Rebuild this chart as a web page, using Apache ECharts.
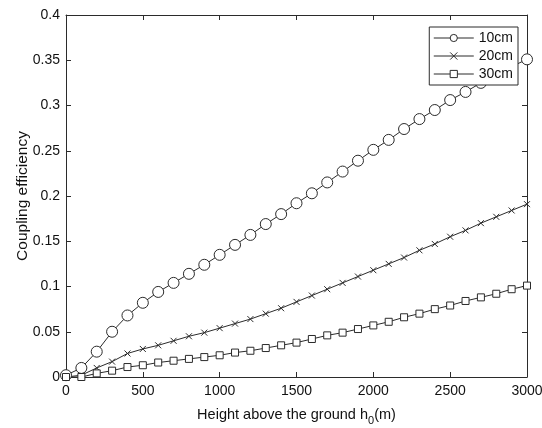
<!DOCTYPE html>
<html>
<head>
<meta charset="utf-8">
<script src="https://cdn.jsdelivr.net/npm/echarts@6/dist/echarts.min.js"></script>
<style>
  html, body { margin: 0; padding: 0; background: #fff; }
  #chart { width: 542px; height: 428px; }
</style>
</head>
<body>
<div id="chart"></div>
<script>
const heights = [0, 100, 200, 300, 400, 500, 600, 700, 800, 900, 1000,
  1100, 1200, 1300, 1400, 1500, 1600, 1700, 1800, 1900, 2000,
  2100, 2200, 2300, 2400, 2500, 2600, 2700, 2800, 2900, 3000];

const eff10 = [0.002, 0.010, 0.028, 0.050, 0.068, 0.082, 0.094, 0.104, 0.114, 0.124, 0.135,
  0.146, 0.157, 0.169, 0.180, 0.192, 0.203, 0.215, 0.227, 0.239, 0.251,
  0.262, 0.274, 0.285, 0.295, 0.306, 0.315, 0.325, 0.334, 0.343, 0.351];
const eff20 = [0.000, 0.002, 0.010, 0.017, 0.026, 0.031, 0.035, 0.040, 0.045, 0.049, 0.054,
  0.059, 0.064, 0.070, 0.076, 0.083, 0.090, 0.097, 0.104, 0.111, 0.118,
  0.125, 0.132, 0.140, 0.147, 0.155, 0.162, 0.170, 0.177, 0.184, 0.191];
const eff30 = [0.000, 0.000, 0.004, 0.007, 0.011, 0.013, 0.016, 0.018, 0.020, 0.022, 0.024,
  0.027, 0.029, 0.032, 0.035, 0.038, 0.042, 0.046, 0.049, 0.053, 0.057,
  0.061, 0.066, 0.070, 0.075, 0.079, 0.084, 0.088, 0.092, 0.097, 0.101];

const seriesNames = ["10cm", "20cm", "30cm"];
const yTickLabels = { 0: "0", 0.05: "0.05", 0.1: "0.1", 0.15: "0.15", 0.2: "0.2",
  0.25: "0.25", 0.3: "0.3", 0.35: "0.35", 0.4: "0.4" };

const ink = "#2b2b2b";
const font = "Liberation Sans, Arial, sans-serif";
const crossPath = "path://M0,0L10,10M10,0L0,10";

function pairs(vals) {
  return heights.map((h, i) => [h, vals[i]]);
}

function lineSeries(name, vals, symbol, size) {
  return {
    name: name,
    type: "line",
    data: pairs(vals),
    symbol: symbol,
    symbolSize: size,
    showAllSymbol: true,
    lineStyle: { color: ink, width: 1 },
    itemStyle: { color: "#fff", borderColor: ink, borderWidth: 1 },
    emphasis: { disabled: true },
    animation: false
  };
}

const chart = echarts.init(document.getElementById("chart"));

const axisLine = { show: true, onZero: false, lineStyle: { color: ink, width: 1 } };
const tickIn = { show: true, inside: true, length: 5, lineStyle: { color: ink } };

chart.setOption({
  backgroundColor: "#fff",
  animation: false,
  textStyle: { fontFamily: font },
  grid: { left: 66, right: 15, top: 15, bottom: 51, outerBoundsMode: "none", containLabel: false },
  legend: {
    orient: "vertical",
    right: 24,
    top: 27,
    itemWidth: 40,
    itemHeight: 9,
    itemGap: 4,
    padding: [4, 5, 4, 4],
    borderColor: ink,
    borderWidth: 1,
    backgroundColor: "#fff",
    lineStyle: { width: 1 },
    itemStyle: { borderWidth: 1 },
    textStyle: { color: "#111", fontSize: 14, fontFamily: font },
    data: seriesNames
  },
  xAxis: [
    {
      type: "value",
      min: 0,
      max: 3000,
      interval: 500,
      position: "bottom",
      axisLine: axisLine,
      axisTick: tickIn,
      splitLine: { show: false },
      axisLabel: { color: "#111", fontSize: 14, margin: 7, formatter: v => String(v) },
      name: "{a|Height above the ground h}{s|0}{a|(m)}",
      nameLocation: "middle",
      nameGap: 30,
      nameMoveOverlap: false,
      nameTextStyle: {
        rich: {
          a: { fontSize: 14.5, color: "#111", verticalAlign: "top", fontFamily: font },
          s: { fontSize: 11, color: "#111", verticalAlign: "top", padding: [8, 0, 0, 0], fontFamily: font }
        }
      }
    },
    {
      type: "value",
      min: 0,
      max: 3000,
      interval: 500,
      position: "top",
      axisLine: axisLine,
      axisTick: tickIn,
      axisLabel: { show: false },
      splitLine: { show: false }
    }
  ],
  yAxis: [
    {
      type: "value",
      min: 0,
      max: 0.4,
      interval: 0.05,
      position: "left",
      axisLine: axisLine,
      axisTick: tickIn,
      splitLine: { show: false },
      axisLabel: {
        color: "#111",
        fontSize: 14,
        margin: 6,
        formatter: v => yTickLabels[Math.round(v * 100) / 100] ?? v
      },
      name: "Coupling efficiency",
      nameLocation: "middle",
      nameGap: 35,
      nameMoveOverlap: false,
      nameTextStyle: { color: "#111", fontSize: 15.5, fontFamily: font }
    },
    {
      type: "value",
      min: 0,
      max: 0.4,
      interval: 0.05,
      position: "right",
      axisLine: axisLine,
      axisTick: tickIn,
      axisLabel: { show: false },
      splitLine: { show: false }
    }
  ],
  series: [
    lineSeries(seriesNames[0], eff10, "circle", 11),
    lineSeries(seriesNames[1], eff20, crossPath, 6),
    lineSeries(seriesNames[2], eff30, "rect", 7)
  ]
});
</script>
</body>
</html>
